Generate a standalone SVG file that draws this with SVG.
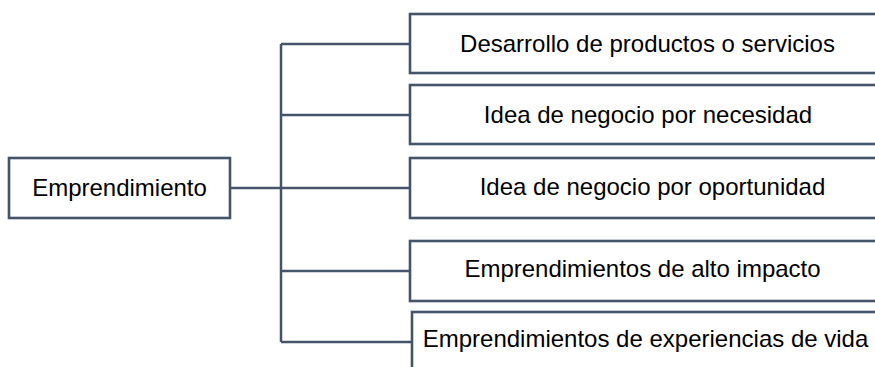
<svg xmlns="http://www.w3.org/2000/svg" width="875" height="367" viewBox="0 0 875 367">
<style>
.box{fill:#ffffff;stroke:#44546a;stroke-width:2.6}
.lbl{font-family:"Liberation Sans",Arial,sans-serif;font-size:24px;fill:#000;text-anchor:middle}
.con{fill:none;stroke:#44546a;stroke-width:2.5}
</style>
<rect width="875" height="367" fill="#ffffff"/>
<g id="connectors">
<path class="con" d="M230 188 H281" stroke-width="3.2"/>
<path class="con" d="M281 44 V342"/>
<path class="con" d="M281 44 H410 M281 115 H410 M281 188 H410 M281 271 H410 M281 342 H412"/>
</g>
<g id="root">
<rect class="box" x="9" y="158" width="221" height="60"/>
<text class="lbl" x="119.5" y="196">Emprendimiento</text>
</g>
<g id="n1">
<rect class="box" x="410" y="14" width="480" height="59"/>
<text class="lbl" x="647.5" y="52">Desarrollo de productos o servicios</text>
</g>
<g id="n2">
<rect class="box" x="410" y="85" width="480" height="59"/>
<text class="lbl" x="648" y="123">Idea de negocio por necesidad</text>
</g>
<g id="n3">
<rect class="box" x="410" y="158" width="480" height="60"/>
<text class="lbl" x="652.5" y="195">Idea de negocio por oportunidad</text>
</g>
<g id="n4">
<rect class="box" x="410" y="241" width="480" height="60"/>
<text class="lbl" x="642.5" y="277">Emprendimientos de alto impacto</text>
</g>
<g id="n5">
<rect class="box" x="412" y="312" width="480" height="70"/>
<text class="lbl" x="645.5" y="347">Emprendimientos de experiencias de vida</text>
</g>
</svg>
